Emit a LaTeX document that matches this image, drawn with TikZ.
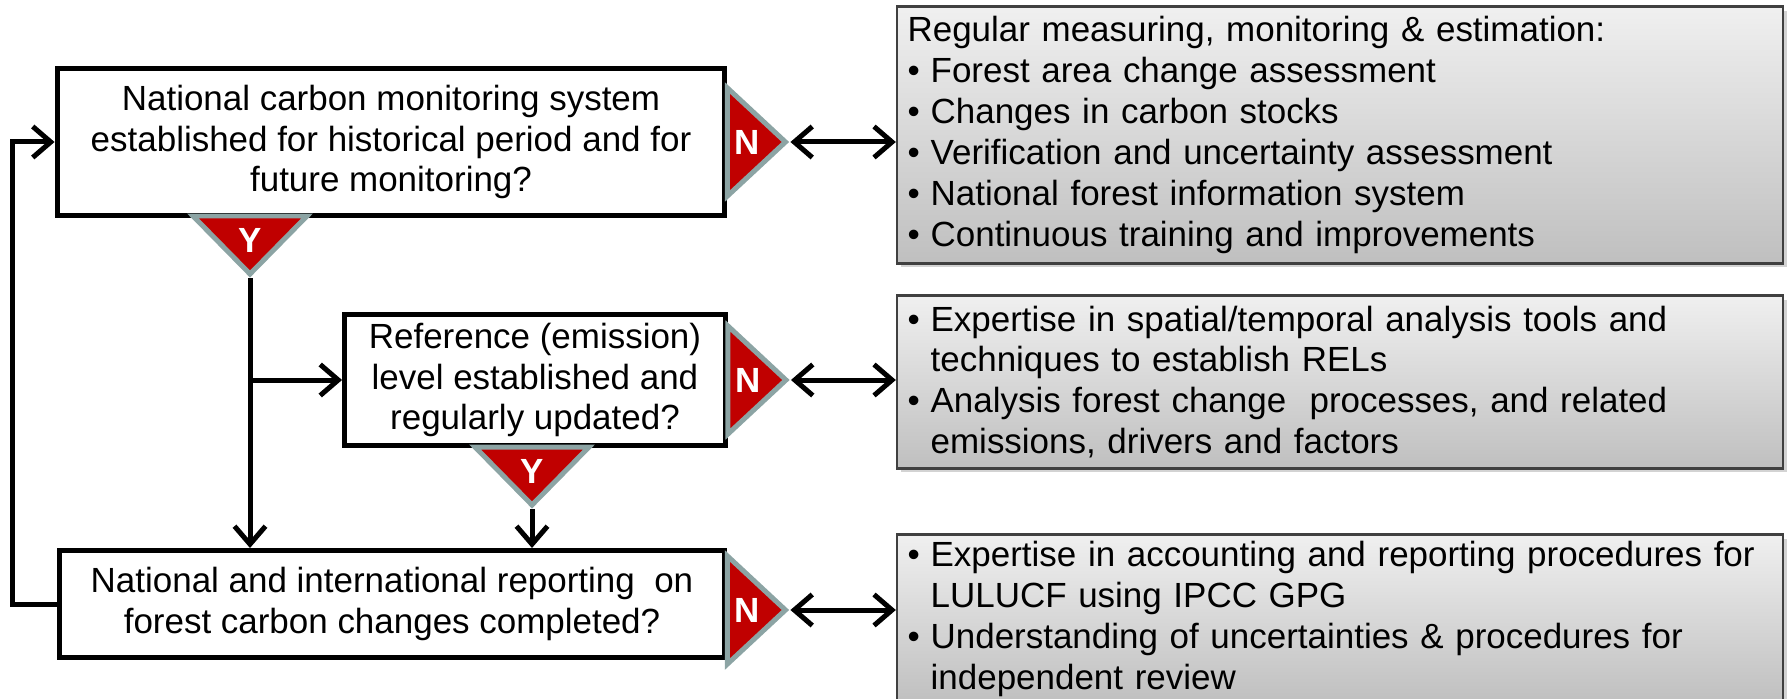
\documentclass[tikz,border=0pt]{standalone}
\usepackage{fontspec}
\setmainfont{Liberation Sans}
\usetikzlibrary{calc,arrows.meta,shadows}

\definecolor{trired}{RGB}{192,0,0}
\definecolor{triedge}{RGB}{140,164,164}
\newcommand\txtsize{\fontsize{19.9pt}{23.3pt}\selectfont}
\newcommand\bul{\makebox[0.66em][l]{\textbullet}}
\newcommand\ind{\hspace*{0.66em}}

\begin{document}
\begin{tikzpicture}[x=0.02cm,y=-0.02cm,
  qbox/.style={draw, line width=0.1cm, fill=white, align=center, font=\txtsize, inner sep=0pt},
  gbox/.style={draw=black!75, line width=0.05cm, top color=gray!12, bottom color=gray!50,
    align=left, font=\txtsize, text width=17.3cm, minimum width=17.72cm, inner xsep=0.2cm,
    drop shadow={shadow xshift=0.08cm, shadow yshift=-0.08cm, opacity=0.35}},
  tri/.style={fill=trired, draw=triedge, line width=0.1cm},
  yn/.style={text=white, font=\txtsize\bfseries, inner sep=0pt},
  conn/.style={line width=0.1cm, >={Straight Barb[length=0.36cm, width=0.62cm]}}]

\clip (0,0) rectangle (1790,699);

% Questions
  \node[qbox, minimum width=13.36cm, minimum height=2.96cm] (b1) at (391,142)
    {National carbon monitoring system\\established for historical period and for\\future monitoring?};
  \node[qbox, minimum width=7.62cm, minimum height=2.62cm] (b2) at (535,380)
    {Reference (emission)\\level established and\\regularly updated?};
  \node[qbox, minimum width=13.32cm, minimum height=2.14cm] (b3) at (392,604)
    {National and international reporting\ \ on\\forest carbon changes completed?};

% Capacities needed
  \node[gbox, minimum height=5.14cm] (g1) at (1340,135)
    {Regular measuring, monitoring \& estimation:\\
     \bul Forest area change assessment\\
     \bul Changes in carbon stocks\\
     \bul Verification and uncertainty assessment\\
     \bul National forest information system\\
     \bul Continuous training and improvements};
  \node[gbox, minimum height=3.46cm] (g2) at (1340,382)
    {\bul Expertise in spatial/temporal analysis tools and\\
     \ind techniques to establish RELs\\
     \bul Analysis forest change\ \ processes, and related\\
     \ind emissions, drivers and factors};
  \node[gbox, minimum height=3.38cm] (g3) at (1340,619)
    {\bul Expertise in accounting and reporting procedures for\\
     \ind LULUCF using IPCC GPG\\
     \bul Understanding of uncertainties \& procedures for\\
     \ind independent review};

% No-branches
  \foreach \b/\g/\s in {b1/g1/0, b2/g2/0, b3/g3/6}{
    \draw[tri] ($(\b.east)+(0,\s-54)$) -- ($(\b.east)+(58,\s)$) -- ($(\b.east)+(0,\s+54)$) -- cycle;
    \node[yn] at ($(\b.east)+(20,\s)$) {N};
    \coordinate (\b tip) at ($(\b.east)+(63,\s)$);
    \draw[conn,<->] (\b tip) -- (\b tip -| \g.west);
  }

% Yes-branches
  \coordinate (y1) at (250,216);
  \coordinate (y2) at (532,447);
  \foreach \n in {y1,y2}{
    \draw[tri] ($(\n)+(-57,0)$) -- ($(\n)+(57,0)$) -- ($(\n)+(0,58)$) -- cycle;
    \node[yn] at ($(\n)+(0,24)$) {Y};
    \coordinate (\n tip) at ($(\n)+(0,62)$);
  }
  \draw[conn,->] (y1tip) -- (y1tip |- b3.north);
  \draw[conn,->] (y1tip |- b2.west) -- (b2.west);
  \draw[conn,->] (y2tip) -- (y2tip |- b3.north);

% Loop back
  \draw[conn,->] (b3.west) -- ++(-44,0) |- (b1.west);

\end{tikzpicture}
\end{document}
